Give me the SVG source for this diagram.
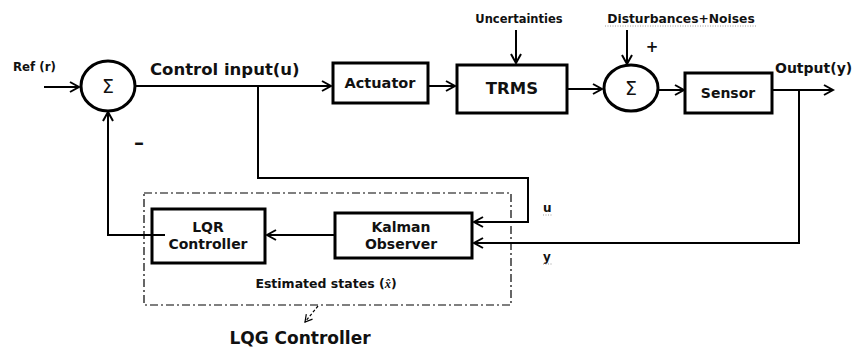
<svg xmlns="http://www.w3.org/2000/svg" width="857" height="349" viewBox="0 0 857 349">
<defs>
<style>
text{font-family:"DejaVu Sans","Open Sans",sans-serif;font-weight:bold;fill:#111}
.box{fill:#fff;stroke:#000;stroke-width:3}
.sum{fill:#fff;stroke:#000;stroke-width:3}
.sig{font-family:"DejaVu Sans",sans-serif;font-weight:normal}
.ln{fill:none;stroke:#000;stroke-width:2}
.m{text-anchor:middle}
.ul{stroke:#999;stroke-width:1;stroke-dasharray:1,1.5}
</style>
<marker id="ah" markerWidth="12" markerHeight="12" refX="10" refY="6" orient="auto" markerUnits="userSpaceOnUse">
<path d="M1,1 L10,6 L1,11" fill="none" stroke="#000" stroke-width="2"/>
</marker>
<marker id="ahs" markerWidth="10" markerHeight="10" refX="8" refY="5" orient="auto" markerUnits="userSpaceOnUse">
<path d="M1,1 L8,5 L1,9" fill="none" stroke="#000" stroke-width="1.2"/>
</marker>
</defs>
<rect width="857" height="349" fill="#fff"/>

<g id="lqg-boundary">
<rect x="144" y="193" width="367" height="112" fill="none" stroke="#000" stroke-width="1.2" stroke-dasharray="8,3,2,3"/>
<text x="326" y="288" class="m" font-size="12.5">Estimated states (<tspan font-family="'Liberation Serif',serif" font-style="italic">x̂</tspan>)</text>
<text x="300" y="344" class="m" font-size="17">LQG Controller</text>
</g>

<g id="sum1">
<ellipse class="sum" cx="108" cy="86" rx="27" ry="25"/>
<text x="108" y="93" class="m sig" font-size="19">Σ</text>
</g>

<g id="sum2">
<ellipse class="sum" cx="631" cy="88" rx="27" ry="23"/>
<text x="631" y="95" class="m sig" font-size="19">Σ</text>
</g>

<g id="actuator">
<rect class="box" x="333" y="63" width="95" height="40"/>
<text x="380" y="88" class="m" font-size="14.5">Actuator</text>
</g>

<g id="trms">
<rect class="box" x="457" y="65" width="110" height="48"/>
<text x="512" y="94" class="m" font-size="16.5">TRMS</text>
</g>

<g id="sensor">
<rect class="box" x="685" y="73" width="87" height="40"/>
<text x="728" y="98" class="m" font-size="14">Sensor</text>
</g>

<g id="lqr">
<rect class="box" x="152" y="209" width="113" height="54"/>
<text x="208" y="232" class="m" font-size="14">LQR</text>
<text x="208" y="249" class="m" font-size="14">Controller</text>
</g>

<g id="kalman">
<rect class="box" x="335" y="213" width="137" height="45"/>
<text x="401" y="232" class="m" font-size="14">Kalman</text>
<text x="401" y="249" class="m" font-size="14">Observer</text>
</g>

<g id="labels">
<text x="13" y="71" font-size="11.8">Ref (r)</text>
<text x="150" y="75" font-size="16.5">Control input(u)</text>
<text x="519" y="23" class="m" font-size="11.5">Uncertainties</text>
<text x="681" y="23" class="m" font-size="12.3">Disturbances+Noises</text>
<path class="ul" d="M605,26 H757"/>
<text x="652" y="52" class="m" font-size="15">+</text>
<text x="139" y="149" class="m" font-size="20">–</text>
<text x="775" y="73" font-size="14">Output(y)</text>
<text x="543" y="212" font-size="12">u</text>
<path class="ul" d="M543,215 H553"/>
<text x="543" y="261" font-size="12">y</text>
<path class="ul" d="M543,264 H553"/>
</g>

<g id="connectors">
<path class="ln" d="M44,87 H79" marker-end="url(#ah)"/>
<path class="ln" d="M135,86 H331" marker-end="url(#ah)"/>
<path class="ln" d="M428,86 H455" marker-end="url(#ah)"/>
<path class="ln" d="M516,30 V63" marker-end="url(#ah)"/>
<path class="ln" d="M567,89 H602" marker-end="url(#ah)"/>
<path class="ln" d="M627,30 V64" marker-end="url(#ah)"/>
<path class="ln" d="M658,90 H684" marker-end="url(#ah)"/>
<path class="ln" d="M772,90 H833" marker-end="url(#ah)"/>
<path class="ln" d="M258,86 V178 H528 V222 H474" marker-end="url(#ah)"/>
<path class="ln" d="M799,90 V243 H474" marker-end="url(#ah)"/>
<path class="ln" d="M335,235 H267" marker-end="url(#ah)"/>
<path class="ln" d="M165,235 H108 V112" marker-end="url(#ah)"/>
<path fill="none" stroke="#000" stroke-width="1.2" stroke-dasharray="3,2" d="M318,306 L305,322" marker-end="url(#ahs)"/>
</g>
</svg>
